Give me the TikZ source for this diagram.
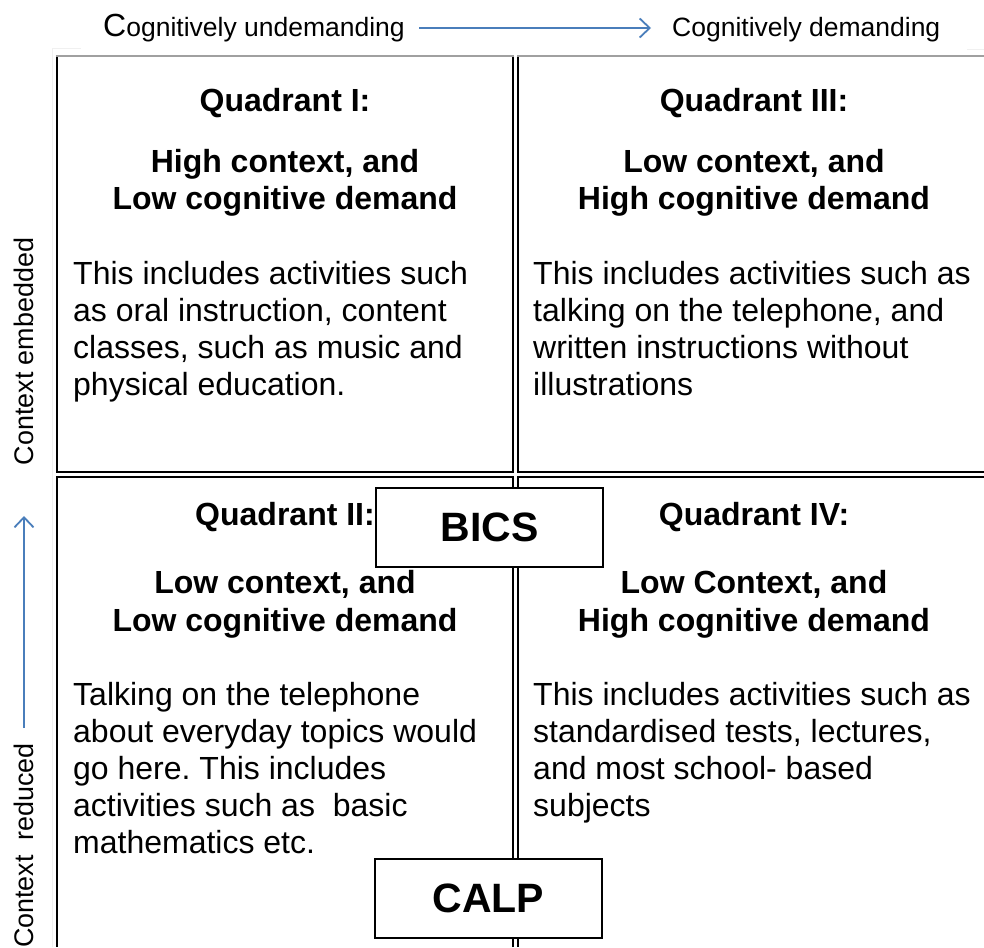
\documentclass[tikz,border=0pt]{standalone}
\usepackage{fontspec}
\setmainfont{Liberation Sans}
\usetikzlibrary{arrows.meta}
\definecolor{arrowblue}{HTML}{4A7EBB}
\definecolor{topgray}{HTML}{A0A0A0}
\frenchspacing
\begin{document}
\begin{tikzpicture}[x=1pt,y=-1pt,
  body/.style={anchor=base west, align=left, inner sep=0pt, font=\fontsize{32}{37}\selectfont},
  head/.style={anchor=base, inner sep=0pt, font=\fontsize{32}{38}\selectfont\bfseries},
  side/.style={anchor=base, inner sep=0pt, rotate=90, font=\fontsize{26.9}{30}\selectfont},
  toplab/.style={anchor=base west, inner sep=0pt, font=\fontsize{26.5}{30}\selectfont},
  gridline/.style={line width=2pt, black, line join=miter},
  topline/.style={line width=2pt, topgray},
  faint/.style={line width=1pt, gray!12},
  tagbox/.style={draw, line width=1.5pt, fill=white, minimum width=227pt, minimum height=79pt, inner sep=0pt, font=\fontsize{41}{45}\selectfont\bfseries},
  arrowc/.style={draw=arrowblue, line width=1.8pt, -{Straight Barb[length=10pt,width=19pt]}}]
\useasboundingbox (0,0) rectangle (984,947);
\fill[white] (0,0) rectangle (984,947);
% faint artefacts
\draw[faint] (52,49) -- (81,49);
\draw[faint] (52,49) -- (52,947);
\draw[faint] (967,50) -- (984,50);
% cells
\draw[gridline] (56.5,56) -- (56.5,471.5) -- (513,471.5) -- (513,56);
\draw[gridline] (517.5,56) -- (517.5,471.5) -- (984,471.5);
\draw[gridline] (513,947) -- (513,476.8) -- (56.5,476.8) -- (56.5,947);
\draw[gridline] (984,476.8) -- (517.5,476.8) -- (517.5,947);
\draw[topline] (55.5,56) -- (513.5,56);
\draw[topline] (517,56) -- (984,56);
% top labels
\node[toplab] (tl) at (103,37) {{\fontsize{32}{34}\selectfont C}ognitively undemanding};
\node[toplab] (tr) at (672,37) {Cognitively demanding};
\coordinate (ha) at (419,28);
\coordinate (hb) at (651,28);
\draw[arrowc] (ha) -- (hb);
% side labels
\node[side] (se) at (33,351.5) {Context embedded};
\node[side] (sr) at (33,845.5) {Context\ \ reduced};
\coordinate (va) at (24,728);
\coordinate (vb) at (24,516);
\draw[arrowc] (va) -- (vb);
% Quadrant I
\node[head] (q1a) at (285,112) {Quadrant I:};
\node[head] (q1b) at (285,172) {High context, and};
\node[head] (q1c) at (285,209) {Low cognitive demand};
\node[body] (q1t) at (73,395.5) {This includes activities such\\as oral instruction, content\\classes, such as music and\\physical education.};
% Quadrant III
\node[head] (q3a) at (754,112) {Quadrant III:};
\node[head] (q3b) at (754,172) {Low context, and};
\node[head] (q3c) at (754,209) {High cognitive demand};
\node[body] (q3t) at (533,395.5) {This includes activities such as\\talking on the telephone, and\\written instructions without\\illustrations};
% Quadrant II
\node[head] (q2a) at (285,525) {Quadrant II:};
\node[head] (q2b) at (285,593) {Low context, and};
\node[head] (q2c) at (285,631) {Low cognitive demand};
\node[body] (q2t) at (73,853) {Talking on the telephone\\about everyday topics would\\go here. This includes\\activities such as\ \ basic\\mathematics etc.};
% Quadrant IV
\node[head] (q4a) at (754,525) {Quadrant IV:};
\node[head] (q4b) at (754,593) {Low Context, and};
\node[head] (q4c) at (754,631) {High cognitive demand};
\node[body] (q4t) at (533,816) {This includes activities such as\\standardised tests, lectures,\\and most school- based\\subjects};
% tags
\node[tagbox] (bics) at (489.5,527.5) {BICS};
\node[tagbox] (calp) at (488.5,898.5) {CALP};
\end{tikzpicture}
\end{document}
